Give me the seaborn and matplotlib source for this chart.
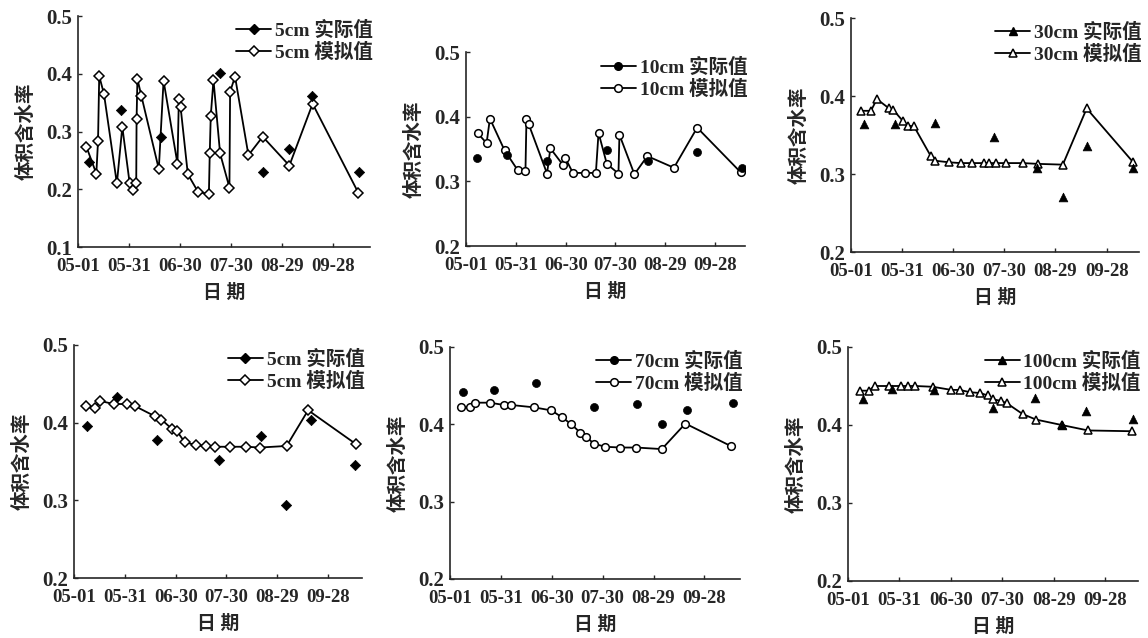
import matplotlib
matplotlib.use("Agg")
import matplotlib.pyplot as plt
from matplotlib.lines import Line2D
import seaborn as sns

# days counted from 05-01
tick_days = [0, 30, 60, 90, 120, 150]
tick_labels = ["05-01", "05-31", "06-30", "07-30", "08-29", "09-28"]

# panel 1: 5cm (upper)
sim5a_day = [4.9, 10.8, 11.8, 12.5, 15.3, 22.9, 26.1, 30.4, 32.4, 34.3, 34.5, 35.0, 37.3,
             47.6, 50.4, 58.6, 59.4, 60.4, 64.7, 70.8, 77.1, 77.6, 78.2, 79.8, 83.7,
             89.2, 89.6, 92.5, 100.4, 108.8, 124.5, 138.2, 165.1]
sim5a_val = [0.274, 0.227, 0.284, 0.396, 0.365, 0.210, 0.308, 0.211, 0.198, 0.211, 0.321,
             0.391, 0.362, 0.235, 0.388, 0.244, 0.357, 0.343, 0.226, 0.195, 0.192, 0.262,
             0.327, 0.389, 0.262, 0.203, 0.369, 0.395, 0.259, 0.291, 0.241, 0.348, 0.194]
obs5a_day = [6.3, 25.3, 49.0, 83.7, 108.8, 124.5, 138.0, 165.6]
obs5a_val = [0.247, 0.338, 0.290, 0.401, 0.230, 0.270, 0.362, 0.230]

# panel 2: 10cm
sim10_day = [7.2, 12.4, 14.4, 23.2, 31.2, 35.8, 36.4, 37.8, 48.8, 50.8, 58.2, 59.8, 64.4,
             71.8, 78.2, 79.8, 84.8, 91.8, 92.4, 101.4, 109.2, 125.2, 139.2, 165.4]
sim10_val = [0.374, 0.359, 0.397, 0.348, 0.317, 0.316, 0.396, 0.388, 0.312, 0.351, 0.326,
             0.336, 0.313, 0.313, 0.313, 0.375, 0.327, 0.312, 0.372, 0.311, 0.339, 0.321,
             0.383, 0.314]
obs10_day = [6.4, 24.8, 48.8, 84.8, 109.8, 138.8, 166.2]
obs10_val = [0.336, 0.340, 0.332, 0.348, 0.331, 0.346, 0.320]

# panel 3: 30cm
sim30_day = [5.8, 11.7, 15.2, 22.4, 24.9, 30.4, 33.5, 37.0, 46.8, 49.5, 57.5, 64.3, 71.1,
             77.9, 80.8, 85.3, 90.8, 100.9, 109.5, 124.3, 138.3, 165.6]
sim30_val = [0.381, 0.381, 0.396, 0.384, 0.382, 0.368, 0.362, 0.361, 0.323, 0.317, 0.315,
             0.314, 0.314, 0.314, 0.314, 0.314, 0.314, 0.314, 0.313, 0.312, 0.384, 0.315]
obs30_day = [7.4, 25.7, 49.1, 84.2, 109.0, 124.3, 138.3, 165.6]
obs30_val = [0.364, 0.364, 0.366, 0.347, 0.308, 0.271, 0.336, 0.308]

# panel 4: 5cm (lower)
sim5b_day = [6.9, 12.4, 15.3, 23.5, 31.4, 36.3, 48.0, 51.6, 57.8, 60.8, 65.3, 72.2, 78.0,
             83.3, 91.8, 101.6, 109.8, 125.5, 138.2, 166.7]
sim5b_val = [0.421, 0.419, 0.428, 0.424, 0.424, 0.421, 0.408, 0.404, 0.392, 0.389, 0.375,
             0.371, 0.370, 0.369, 0.369, 0.369, 0.368, 0.370, 0.416, 0.372]
obs5b_day = [7.8, 25.5, 49.0, 85.3, 110.2, 124.9, 139.8, 166.1]
obs5b_val = [0.396, 0.433, 0.378, 0.352, 0.383, 0.294, 0.403, 0.345]

# panel 5: 70cm
sim70_day = [6.7, 11.8, 14.7, 23.5, 31.8, 36.1, 49.4, 59.8, 66.1, 71.6, 76.9, 80.4, 84.7,
             91.6, 100.4, 109.8, 124.9, 138.8, 165.5]
sim70_val = [0.422, 0.422, 0.428, 0.428, 0.425, 0.425, 0.422, 0.418, 0.409, 0.400, 0.389,
             0.384, 0.375, 0.371, 0.370, 0.370, 0.368, 0.401, 0.372]
obs70_day = [7.6, 25.9, 50.8, 85.1, 110.2, 125.3, 140.0, 167.0]
obs70_val = [0.442, 0.444, 0.453, 0.422, 0.426, 0.401, 0.419, 0.427]

# panel 6: 100cm
sim100_day = [7.0, 12.2, 15.5, 23.8, 30.6, 34.8, 39.3, 49.4, 60.2, 65.0, 71.2, 77.0, 81.3,
              84.4, 89.0, 92.5, 101.8, 109.5, 124.5, 139.9, 165.7]
sim100_val = [0.444, 0.444, 0.450, 0.450, 0.450, 0.450, 0.450, 0.449, 0.445, 0.445, 0.442,
              0.441, 0.438, 0.433, 0.431, 0.428, 0.414, 0.407, 0.400, 0.393, 0.392]
obs100_day = [8.5, 25.7, 50.0, 84.4, 109.0, 124.8, 138.6, 166.0]
obs100_val = [0.433, 0.446, 0.445, 0.422, 0.434, 0.400, 0.418, 0.408]

panels = [
    ("5cm", "D", sim5a_day, sim5a_val, obs5a_day, obs5a_val, (0.1, 0.5), 172),
    ("10cm", "o", sim10_day, sim10_val, obs10_day, obs10_val, (0.2, 0.5), 168),
    ("30cm", "^", sim30_day, sim30_val, obs30_day, obs30_val, (0.2, 0.5), 169),
    ("5cm", "D", sim5b_day, sim5b_val, obs5b_day, obs5b_val, (0.2, 0.5), 170),
    ("70cm", "o", sim70_day, sim70_val, obs70_day, obs70_val, (0.2, 0.5), 171),
    ("100cm", "^", sim100_day, sim100_val, obs100_day, obs100_val, (0.2, 0.5), 169),
]

# axes boxes in pixels: left, right, top, bottom
boxes = [(78, 370, 16, 247), (466, 745, 52, 246), (851, 1139, 18, 252),
         (74, 362, 345, 578), (450, 740, 347, 579), (848, 1138, 347, 581)]

sns.set_style("ticks")
plt.rcParams['font.family'] = ['Liberation Serif', 'Noto Sans CJK SC']
plt.rcParams['font.weight'] = 'bold'

W, H = 1148, 638
fig = plt.figure(figsize=(W / 100, H / 100), dpi=100)

msize = {"D": 5, "o": 5.5, "^": 6}

for (depth, mk, sd, sv, od, ov, ylim, xmax), (l, r, t, b) in zip(panels, boxes):
    ax = fig.add_axes([l / W, 1 - b / H, (r - l) / W, (b - t) / H])
    ms = msize[mk]
    sns.lineplot(x=sd, y=sv, sort=False, estimator=None, ax=ax, color='k', linewidth=1.3,
                 marker=mk, markersize=ms, markerfacecolor='white', markeredgecolor='k',
                 markeredgewidth=1.1)
    sns.scatterplot(x=od, y=ov, ax=ax, marker=mk, color='k', s=ms ** 2 * 1.1,
                    edgecolor='k', linewidth=0.5, zorder=3)
    ax.set_xlim(0, xmax)
    ax.set_ylim(*ylim)
    yt = [round(ylim[0] + 0.1 * i, 1) for i in range(int(round((ylim[1] - ylim[0]) / 0.1)) + 1)]
    ax.set_yticks(yt)
    ax.set_yticklabels([f"{v:.1f}" for v in yt])
    ax.set_xticks(tick_days)
    ax.set_xticklabels(tick_labels)
    ax.tick_params(direction='in', length=3, width=1)
    ax.tick_params(axis='x', pad=8, labelsize=13.5)
    ax.tick_params(axis='y', pad=4, labelsize=15)
    for lab in ax.get_xticklabels() + ax.get_yticklabels():
        lab.set_fontweight('bold')
    sns.despine(ax=ax)
    for s in ["left", "bottom"]:
        ax.spines[s].set_linewidth(1.2)
    ax.set_xlabel("日 期", fontsize=13.5, fontweight='bold', labelpad=6)
    ax.set_ylabel("体积含水率", fontsize=14, fontweight='bold', labelpad=8)

    handles = [
        Line2D([], [], color='k', lw=1.3, marker=mk, markersize=ms, markerfacecolor='k',
               markeredgecolor='k'),
        Line2D([], [], color='k', lw=1.3, marker=mk, markersize=ms, markerfacecolor='white',
               markeredgecolor='k', markeredgewidth=1.1),
    ]
    ax.legend(handles, [f"{depth} 实际值", f"{depth} 模拟值"], loc='upper right',
              bbox_to_anchor=(1.05, 1.03), frameon=False, handlelength=1.8,
              handletextpad=0.2, labelspacing=0.15, borderaxespad=0.2,
              prop={'weight': 'bold', 'size': 14})

fig.savefig("out.png", dpi=100)
